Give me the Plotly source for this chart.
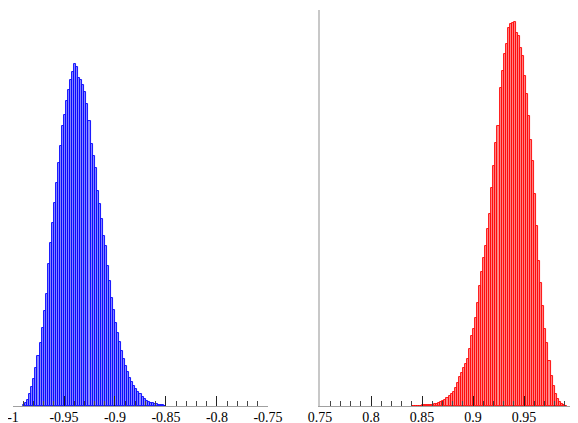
import plotly.graph_objects as go
from plotly.subplots import make_subplots

# ---- data ----
bin_width = 0.002

left_bin_start = -0.990
left_counts = [10, 30, 60, 120, 190, 270, 380, 500, 630, 780,
               950, 1120, 1420, 1630, 1830, 2030, 2230, 2430, 2600, 2800,
               2910, 3050, 3160, 3260, 3340, 3420, 3390, 3280, 3260, 3210,
               3140, 3020, 2850, 2620, 2500, 2380, 2150, 2020, 1870, 1700,
               1600, 1400, 1250, 1080, 960, 830, 730, 640, 550, 470,
               400, 340, 280, 240, 200, 170, 140, 120, 90, 70,
               50, 40, 30, 30, 20, 20, 10, 10, 10, 5]

right_bin_start = 0.840
right_counts = [3, 3, 5, 5, 5, 7, 7, 8, 10, 10,
                15, 18, 22, 30, 40, 50, 60, 80, 100, 120,
                140, 180, 230, 290, 330, 380, 420, 470, 570, 700,
                770, 880, 1030, 1200, 1340, 1480, 1600, 1770, 1920, 2180,
                2400, 2630, 2800, 3180, 3350, 3520, 3620, 3780, 3820, 3830,
                3840, 3730, 3700, 3580, 3500, 3300, 3120, 2900, 2660, 2450,
                2120, 1800, 1450, 1230, 1000, 770, 630, 450, 300, 200,
                120, 70, 40, 20, 10, 5]

left_tickvals = [-1, -0.95, -0.9, -0.85, -0.8, -0.75]
left_ticktext = ["-1", "-0.95", "-0.9", "-0.85", "-0.8", "-0.75"]
right_tickvals = [0.75, 0.8, 0.85, 0.9, 0.95, 1]
right_ticktext = ["0.75", "0.8", "0.85", "0.9", "0.95", "1"]

y_max = 3960

left_x = [left_bin_start + bin_width * (i + 0.5) for i in range(len(left_counts))]
right_x = [right_bin_start + bin_width * (i + 0.5) for i in range(len(right_counts))]

fig = make_subplots(rows=1, cols=2)

fig.add_trace(go.Bar(x=left_x, y=left_counts, width=bin_width,
                     marker=dict(color="#8a8aff", line=dict(color="#0000ff", width=0.9)),
                     showlegend=False), row=1, col=1)
fig.add_trace(go.Bar(x=right_x, y=right_counts, width=bin_width,
                     marker=dict(color="#ff8a8a", line=dict(color="#ff0000", width=0.9)),
                     showlegend=False), row=1, col=2)

font = dict(family="Liberation Serif, Times New Roman, serif", size=14, color="#000")
xcommon = dict(showgrid=False, zeroline=False, showline=True, linecolor="#a0a0a0",
               linewidth=1, ticks="inside", ticklen=10, tickwidth=1, tickcolor="#222",
               tickfont=font, automargin=False, ticklabeloverflow="allow",
               ticklabelstandoff=-2,
               minor=dict(ticks="inside", ticklen=5, tickwidth=1, tickcolor="#444",
                          tickmode="linear", dtick=0.01, showgrid=False))

fig.update_xaxes(range=[-1, -0.75], tickmode="array", tickvals=left_tickvals,
                 ticktext=left_ticktext, domain=[0, 0.4537], **xcommon, row=1, col=1)
fig.update_xaxes(range=[0.75, 1], tickmode="array", tickvals=right_tickvals,
                 ticktext=right_ticktext, domain=[0.5463, 1.0], **xcommon, row=1, col=2)
fig.layout.xaxis.minor.tick0 = -1
fig.layout.xaxis2.minor.tick0 = 0.75

fig.update_yaxes(range=[0, y_max], showgrid=False, zeroline=False, showticklabels=False,
                 ticks="", showline=False, automargin=False, row=1, col=1)
fig.update_yaxes(range=[0, y_max], showgrid=False, zeroline=False, showticklabels=False,
                 ticks="", showline=True, linecolor="#c8c8c8", linewidth=2,
                 automargin=False, row=1, col=2)

fig.update_layout(width=578, height=423, margin=dict(l=5, r=11, t=2, b=25),
                  plot_bgcolor="white", paper_bgcolor="white", bargap=0,
                  font=font)

fig.write_html("out.html")
